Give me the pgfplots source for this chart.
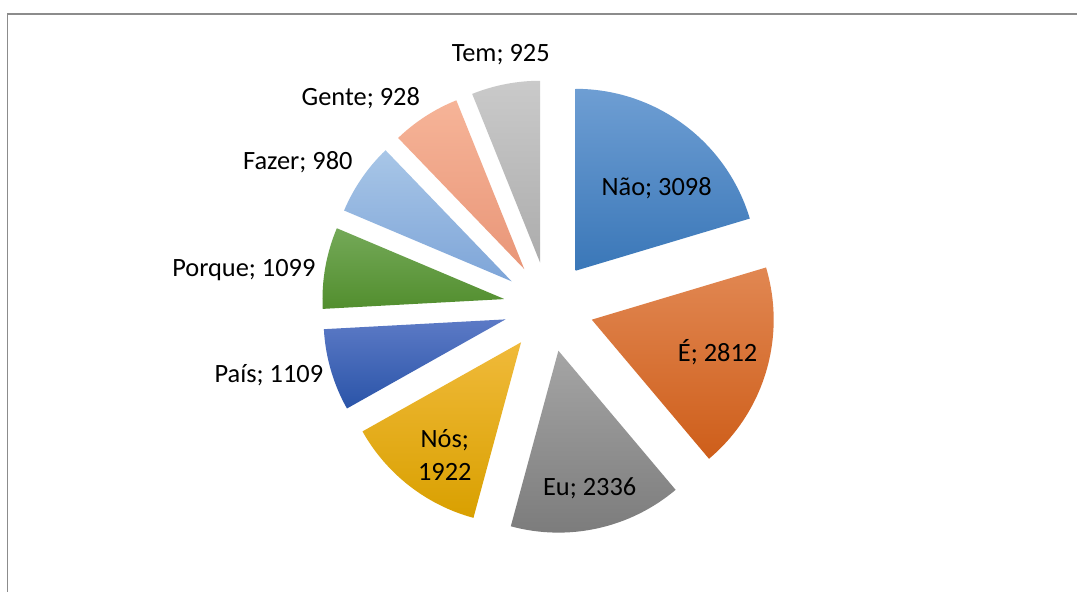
\documentclass[border=0pt]{standalone}
\usepackage{pgfplots}
\pgfplotsset{compat=1.18}
\usepackage{pgfplotstable}
\usepackage{fontspec}
\setmainfont{Carlito}

\definecolor{naoT}{RGB}{110,158,211}\definecolor{naoB}{RGB}{58,119,184}
\definecolor{eT}{RGB}{225,135,82}\definecolor{eB}{RGB}{206,94,26}
\definecolor{euT}{RGB}{165,165,165}\definecolor{euB}{RGB}{122,122,122}
\definecolor{nosT}{RGB}{240,186,58}\definecolor{nosB}{RGB}{217,160,0}
\definecolor{paisT}{RGB}{92,122,198}\definecolor{paisB}{RGB}{42,84,168}
\definecolor{porT}{RGB}{116,169,88}\definecolor{porB}{RGB}{82,142,46}
\definecolor{fazT}{RGB}{168,198,231}\definecolor{fazB}{RGB}{126,165,216}
\definecolor{genT}{RGB}{246,180,152}\definecolor{genB}{RGB}{233,150,120}
\definecolor{temT}{RGB}{202,202,202}\definecolor{temB}{RGB}{172,172,172}
\definecolor{frame}{RGB}{140,140,140}

\pgfplotstableread{
label value
Não 3098
É 2812
Eu 2336
Nós 1922
País 1109
Porque 1099
Fazer 980
Gente 928
Tem 925
}\piedata

% geometry in pixel units (y up), 1 unit = 0.5pt
\def\cx{549}\def\cy{285}
\def\R{182}\def\D{45}
\def\Rpt{91pt}

\pgfplotstablegetrowsof{\piedata}
\pgfmathtruncatemacro\nrows{\pgfplotsretval-1}
\def\total{0}
\pgfplotsforeachungrouped \i in {0,...,\nrows}{%
  \pgfplotstablegetelem{\i}{value}\of\piedata
  \pgfmathsetmacro\total{\total+\pgfplotsretval}}
\xdef\astart{90}

\newcommand\pieslice[3]{%
  \pgfplotstablegetelem{#1}{value}\of\piedata
  \pgfmathsetmacro\sspan{\pgfplotsretval/\total*360}%
  \pgfmathsetmacro\aend{\astart-\sspan}%
  \pgfmathsetmacro\amid{(\astart+\aend)/2}%
  \pgfmathsetmacro\apx{\cx+\D*cos(\amid)}%
  \pgfmathsetmacro\apy{\cy+\D*sin(\amid)}%
  \pgfmathsetmacro\bx{\apx+\R*cos(\astart)}%
  \pgfmathsetmacro\by{\apy+\R*sin(\astart)}%
  \edef\temp{\noexpand\path[top color=#2, bottom color=#3] (axis cs:\apx,\apy) -- (axis cs:\bx,\by) arc[start angle=\astart, end angle=\aend, radius=\Rpt] -- cycle;}%
  \temp
  \xdef\astart{\aend}%
}

\begin{document}
\begin{tikzpicture}
\begin{axis}[
  x=0.5pt, y=0.5pt,
  xmin=0, xmax=1078, ymin=0, ymax=592,
  hide axis, clip=false,
]
\fill[white] (axis cs:0,0) rectangle (axis cs:1078,592);
\draw[frame, line width=0.6pt] (axis cs:7.5,0) -- (axis cs:7.5,578) -- (axis cs:1078,578);
\pieslice{0}{naoT}{naoB}
\pieslice{1}{eT}{eB}
\pieslice{2}{euT}{euB}
\pieslice{3}{nosT}{nosB}
\pieslice{4}{paisT}{paisB}
\pieslice{5}{porT}{porB}
\pieslice{6}{fazT}{fazB}
\pieslice{7}{genT}{genB}
\pieslice{8}{temT}{temB}
\begin{scope}[every node/.style={font=\fontsize{13.2}{16.5}\selectfont, text=black, inner sep=0pt}]
\node at (axis cs:657,404) {Não; 3098};
\node at (axis cs:718,240) {É; 2812};
\node at (axis cs:590,103) {Eu; 2336};
\node[align=center] at (axis cs:445,137) {Nós;\\1922};
\node at (axis cs:269,217) {País; 1109};
\node at (axis cs:244,322) {Porque; 1099};
\node at (axis cs:298,430) {Fazer; 980};
\node at (axis cs:361,494) {Gente; 928};
\node at (axis cs:501,537) {Tem; 925};
\end{scope}
\end{axis}
\end{tikzpicture}
\end{document}
